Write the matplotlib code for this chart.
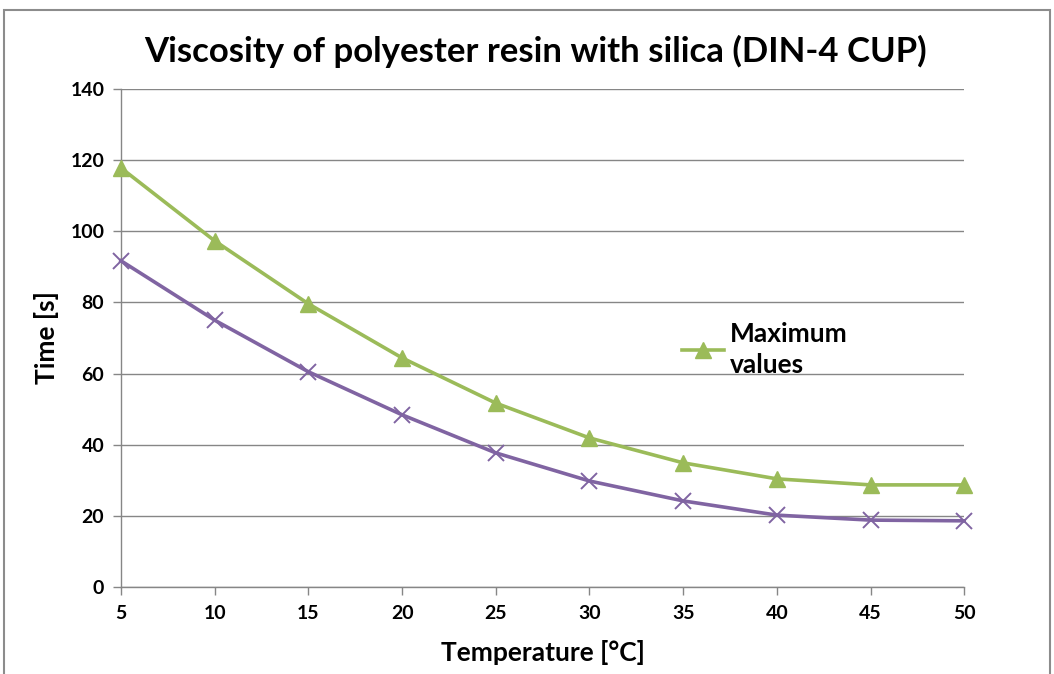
import matplotlib.pyplot as plt
from matplotlib.patches import Rectangle

plt.rcParams['font.family'] = ['Lato', 'DejaVu Sans']

# Data
temperature = [5, 10, 15, 20, 25, 30, 35, 40, 45, 50]
max_values = [117.8, 97.3, 79.6, 64.4, 51.7, 41.9, 34.9, 30.4, 28.7, 28.7]
min_values = [91.7, 75.0, 60.5, 48.4, 37.7, 29.8, 24.2, 20.2, 18.8, 18.6]
y_ticks = [0, 20, 40, 60, 80, 100, 120, 140]

green = '#9BBB59'
purple = '#8064A2'
axis_grey = '#868686'

fig = plt.figure(figsize=(10.54, 6.74), dpi=100)
ax = fig.add_axes([0.1148, 0.1291, 0.8, 0.7389])

# outer chart frame (bottom edge outside the picture)
fig.patches.append(Rectangle((0.004, -0.05), 0.992, 1.035, transform=fig.transFigure,
                             fill=False, edgecolor='#8c8c8c', linewidth=1.5))

ax.plot(temperature, max_values, color=green, linewidth=2.6, marker='^',
        markersize=12, label='Maximum\nvalues', zorder=3, clip_on=False)
ax.plot(temperature, min_values, color=purple, linewidth=2.6, marker='x',
        markersize=12, markeredgewidth=1.4, zorder=3, clip_on=False)

ax.set_xlim(5, 50)
ax.set_ylim(0, 140)
ax.set_xticks(temperature)
ax.set_yticks(y_ticks)
ax.grid(axis='y', color=axis_grey, linewidth=1)
ax.set_axisbelow(True)

for side in ['top', 'right']:
    ax.spines[side].set_visible(False)
for side in ['left', 'bottom']:
    ax.spines[side].set_color(axis_grey)
    ax.spines[side].set_linewidth(1)
ax.tick_params(axis='both', color=axis_grey, length=6, width=1, labelsize=14)
ax.tick_params(axis='x', pad=7)
ax.tick_params(axis='y', pad=6)
for lab in ax.get_xticklabels() + ax.get_yticklabels():
    lab.set_fontweight('bold')

ax.set_xlabel('Temperature [°C]', fontsize=19, fontweight='bold', va='center')
ax.set_ylabel('Time [s]', fontsize=19, fontweight='bold', va='center')
ax.xaxis.set_label_coords(0.5, -0.131)
ax.yaxis.set_label_coords(-0.088, 0.5)
fig.text(0.508, 0.923, 'Viscosity of polyester resin with silica (DIN-4 CUP)',
         ha='center', va='center', fontsize=25, fontweight='bold')

leg = ax.legend(loc='upper left', bbox_to_anchor=(0.65, 0.558), frameon=False,
                prop={'size': 19, 'weight': 'bold'}, handlelength=1.6,
                handletextpad=0.2, borderpad=0, labelspacing=0)
for t in leg.get_texts():
    t.set_linespacing(1.33)

fig.savefig('out.png', dpi=100)
